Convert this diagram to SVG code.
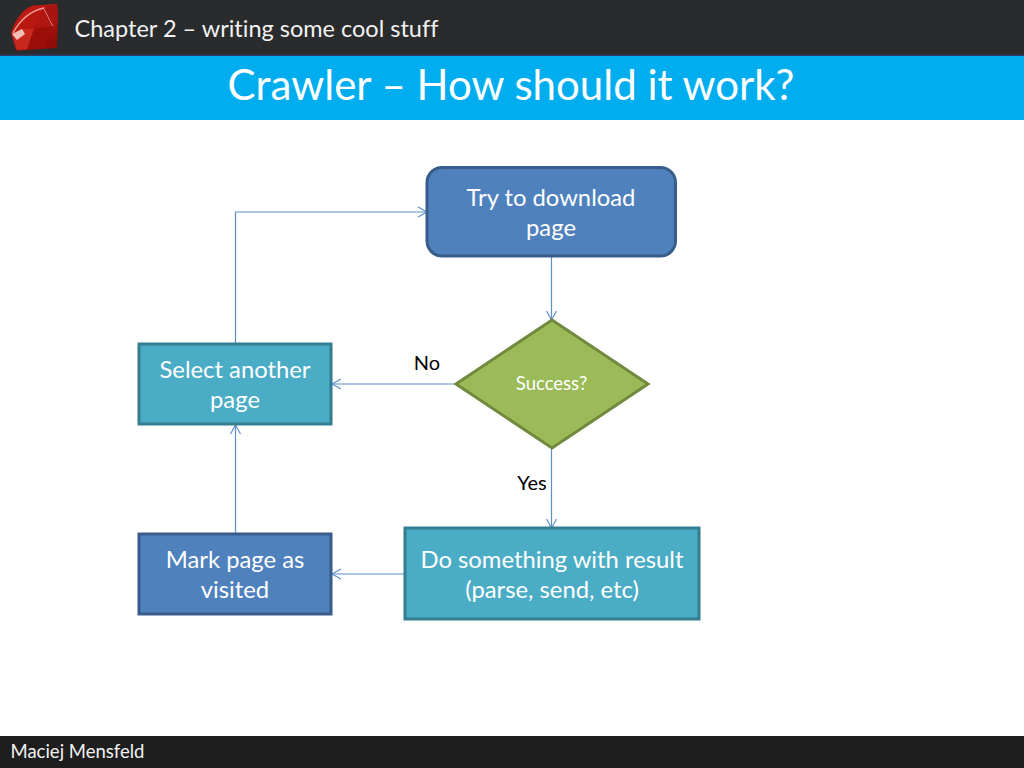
<svg xmlns="http://www.w3.org/2000/svg" width="1024" height="768" viewBox="0 0 1024 768">
<style>
text{font-family:Lato,"Liberation Sans",sans-serif;text-anchor:middle;font-variant-ligatures:none}
.w{fill:#fff;font-size:23.8px}
.k{fill:#000;font-size:20px}
.c{fill:none;stroke:#5f8fcb;stroke-width:1.2;marker-end:url(#a)}
.bl{fill:#4f81bd;stroke:#385d8a;stroke-width:3}
.te{fill:#4bacc6;stroke:#357d91;stroke-width:3}
</style>
<defs>
<marker id="a" markerUnits="userSpaceOnUse" markerWidth="14" markerHeight="14" refX="11" refY="7" orient="auto"><path d="M2 2L11 7L2 12" fill="none" stroke="#5f8fcb" stroke-width="1.2"/></marker>
<linearGradient id="r" x1="0" y1="0" x2="0.6" y2="1"><stop offset="0" stop-color="#c81c14"/><stop offset="0.6" stop-color="#b01510"/><stop offset="1" stop-color="#8e0c08"/></linearGradient>
</defs>
<rect width="1024" height="768" fill="#fff"/>
<g id="header">
<rect width="1024" height="55" fill="#2a2b2d"/>
<rect y="54.500" width="1024" height="1.500" fill="#2f3a6a"/>
<rect y="56" width="1024" height="64" fill="#00adef"/>
<text x="256.500" y="37" style="font-size:23.500px;fill:#f2f2f2">Chapter 2 – writing some cool stuff</text>
<text x="511" y="100" style="font-size:42px;fill:#fff">Crawler – How should it work?</text>
</g>
<g id="logo">
<path d="M11 33C14 22 22 9 33 5.500L57 4L58 15L57 48L16 50.500Z" fill="url(#r)"/>
<path d="M14 32C20 20 30 11 43 8L34 27Z" fill="#b81810"/>
<path d="M43 8L53 26L34 29Z" fill="#b01510"/>
<path d="M13 33C20 20 30 11 44 8L53 26" fill="none" stroke="#ee9d94" stroke-width="1.400"/>
<path d="M12 34L22 29L34 29L27 49.500L17 50Z" fill="#c8281e"/>
<path d="M12 34L22 29L25 34L17 40Z" fill="#f2c0b8"/>
<path d="M34 29L53 26L46 48L27 49.500Z" fill="#9c0f08"/>
<path d="M44 8L57 4.500L58 15L53 26Z" fill="#a81410"/>
</g>
<g id="connectors">
<path class="c" d="M551.500 257V320"/>
<path class="c" d="M455 384H332"/>
<path class="c" d="M551.500 448V528"/>
<path class="c" d="M404 574H332"/>
<path class="c" d="M235.500 533V425"/>
<path class="c" d="M235.500 343V212H427"/>
</g>
<g id="download"><rect class="bl" x="427" y="167.500" width="248.500" height="88.500" rx="15"/><text class="w" x="551" y="206">Try to download</text><text class="w" x="551" y="236">page</text></g>
<g id="success"><path d="M552 320L648 384L552 448L456 384Z" fill="#9bbb59" stroke="#71893f" stroke-width="3"/><text x="551.500" y="390" style="font-size:18.500px;fill:#fff">Success?</text></g>
<g id="select"><rect class="te" x="139" y="344" width="192" height="80"/><text class="w" x="235" y="378">Select another</text><text class="w" x="235" y="408">page</text></g>
<g id="mark"><rect class="bl" x="139" y="534" width="192" height="80"/><text class="w" x="235" y="568">Mark page as</text><text class="w" x="235" y="598">visited</text></g>
<g id="result"><rect class="te" x="405" y="528" width="294" height="91"/><text class="w" x="552" y="568">Do something with result</text><text class="w" x="552" y="598">(parse, send, etc)</text></g>
<text class="k" x="427" y="370">No</text>
<text class="k" x="532" y="490">Yes</text>
<g id="footer"><rect y="736" width="1024" height="32" fill="#1e1e1e"/><text x="77.500" y="758" style="font-size:18.500px;fill:#f2f2f2">Maciej Mensfeld</text></g>
</svg>
